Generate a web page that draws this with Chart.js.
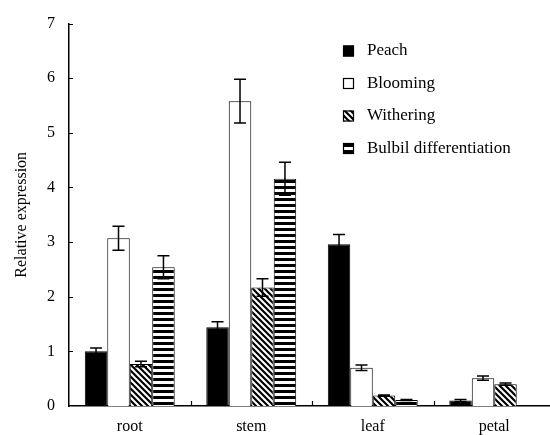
<!DOCTYPE html>
<html>
<head>
<meta charset="utf-8">
<script src="https://cdn.jsdelivr.net/npm/chart.js@4.4.1/dist/chart.umd.min.js"></script>
<style>
  html, body { margin: 0; padding: 0; background: #fff; overflow: hidden; }
  #wrap { width: 556px; height: 435px; }
</style>
</head>
<body>
<div id="wrap"><canvas id="c" width="556" height="435"></canvas></div>
<script>
// Tissues on the x axis
const tissues = ['root', 'stem', 'leaf', 'petal'];

// Developmental stages (one bar series each)
const stages = ['Peach', 'Blooming', 'Withering', 'Bulbil differentiation'];

// Relative expression per stage, in tissue order
const peach     = [1.00, 1.44, 2.96, 0.10];
const blooming  = [3.07, 5.58, 0.70, 0.51];
const withering = [0.77, 2.17, 0.19, 0.40];
const bulbil    = [2.54, 4.16, 0.11, 0];

// Standard errors, same layout
const peachErr     = [0.06, 0.10, 0.18, 0.02];
const bloomingErr  = [0.22, 0.40, 0.05, 0.04];
const witheringErr = [0.05, 0.16, 0.01, 0.02];
const bulbilErr    = [0.21, 0.30, 0.01, 0];

// Y axis ticks
const yTicks = [0, 1, 2, 3, 4, 5, 6, 7];

const SERIF = '"Liberation Serif", "Times New Roman", serif';

// Fill patterns
function diagonalPattern() {
  const s = 6;
  const c = document.createElement('canvas');
  c.width = s; c.height = s;
  const g = c.getContext('2d');
  g.fillStyle = '#fff';
  g.fillRect(0, 0, s, s);
  g.strokeStyle = '#000';
  g.lineWidth = 2.2;
  g.beginPath();
  for (let k = -1; k <= 1; k++) {
    g.moveTo(k * s - 1, -1);
    g.lineTo(k * s + s + 1, s + 1);
  }
  g.stroke();
  return g.createPattern(c, 'repeat');
}
function stripePattern() {
  const s = 6;
  const c = document.createElement('canvas');
  c.width = s; c.height = s;
  const g = c.getContext('2d');
  g.fillStyle = '#fff';
  g.fillRect(0, 0, s, s);
  g.fillStyle = '#000';
  g.fillRect(0, 0, s, 3);
  return g.createPattern(c, 'repeat');
}

const fills = ['#000000', '#ffffff', diagonalPattern(), stripePattern()];
const values = [peach, blooming, withering, bulbil];
const errors = [peachErr, bloomingErr, witheringErr, bulbilErr];

const datasets = stages.map((name, i) => ({
  label: name,
  data: values[i],
  errors: errors[i],
  backgroundColor: fills[i],
  borderColor: '#000',
  borderWidth: 1,
  borderSkipped: 'start',
  categoryPercentage: 0.74,
  barPercentage: 1.0
}));

// Error bars with caps on both ends
const errorBars = {
  id: 'errorBars',
  afterDatasetsDraw(chart) {
    const ctx = chart.ctx;
    const y = chart.scales.y;
    ctx.save();
    ctx.strokeStyle = '#000';
    ctx.lineWidth = 1.5;
    chart.data.datasets.forEach((ds, i) => {
      const meta = chart.getDatasetMeta(i);
      meta.data.forEach((bar, j) => {
        const v = ds.data[j];
        const e = ds.errors[j];
        if (!e) return;
        const x = bar.x;
        const yTop = y.getPixelForValue(v + e);
        const yBot = y.getPixelForValue(v - e);
        const cap = 6;
        ctx.beginPath();
        ctx.moveTo(x, yTop); ctx.lineTo(x, yBot);
        ctx.moveTo(x - cap, yTop); ctx.lineTo(x + cap, yTop);
        ctx.moveTo(x - cap, yBot); ctx.lineTo(x + cap, yBot);
        ctx.stroke();
      });
    });
    ctx.restore();
  }
};

// Short tick marks pointing into the plot area
const innerTicks = {
  id: 'innerTicks',
  afterDatasetsDraw(chart) {
    const ctx = chart.ctx;
    const xs = chart.scales.x, ys = chart.scales.y;
    const area = chart.chartArea;
    ctx.save();
    ctx.strokeStyle = '#000';
    ctx.lineWidth = 1.2;
    ctx.beginPath();
    yTicks.forEach(t => {
      if (t === 0) return;
      const py = Math.round(ys.getPixelForValue(t)) + 0.5;
      ctx.moveTo(area.left, py);
      ctx.lineTo(area.left + 4, py);
    });
    const n = tissues.length;
    for (let i = 0; i < n; i++) {
      const c = xs.getPixelForValue(i);
      const half = (xs.getPixelForValue(1) - xs.getPixelForValue(0)) / 2;
      const px = Math.round(c + half) + 0.5;
      ctx.moveTo(px, area.bottom);
      ctx.lineTo(px, area.bottom - 5);
    }
    ctx.stroke();
    ctx.restore();
  }
};

// Legend in the upper right of the plot
const boxLegend = {
  id: 'boxLegend',
  afterDraw(chart) {
    const ctx = chart.ctx;
    const x0 = 343, y0 = 51, step = 32.5, box = 11;
    ctx.save();
    ctx.font = '17px ' + SERIF;
    ctx.textBaseline = 'middle';
    chart.data.datasets.forEach((ds, i) => {
      const cy = y0 + i * step;
      ctx.fillStyle = ds.backgroundColor;
      ctx.fillRect(x0, cy - box / 2, box, box);
      ctx.strokeStyle = '#000';
      ctx.lineWidth = 1.2;
      ctx.strokeRect(x0 + 0.5, cy - box / 2 + 0.5, box - 1, box - 1);
      ctx.fillStyle = '#000';
      ctx.fillText(ds.label, x0 + 24, cy);
    });
    ctx.restore();
  }
};

new Chart(document.getElementById('c'), {
  type: 'bar',
  data: { labels: tissues, datasets },
  options: {
    responsive: false,
    animation: false,
    devicePixelRatio: 1,
    layout: { padding: { top: 22, right: 1, left: 0, bottom: 0 } },
    plugins: {
      legend: { display: false },
      tooltip: { enabled: false }
    },
    scales: {
      x: {
        grid: { display: false, drawTicks: false },
        border: { display: true, color: '#000', width: 1.5 },
        ticks: { color: '#000', padding: 11, font: { family: SERIF, size: 16 } },
        afterFit(scale) { scale.height = 29; }
      },
      y: {
        min: 0,
        max: 7,
        afterBuildTicks(scale) { scale.ticks = yTicks.map(v => ({ value: v })); },
        grid: { display: false, drawTicks: false },
        border: { display: true, color: '#000', width: 1.5 },
        ticks: { color: '#000', padding: 14, font: { family: SERIF, size: 16 } },
        title: {
          display: true,
          text: 'Relative expression',
          color: '#000',
          padding: { top: 12, bottom: 0 },
          font: { family: SERIF, size: 16 }
        },
        afterFit(scale) { scale.width = 69; }
      }
    }
  },
  plugins: [errorBars, innerTicks, boxLegend]
});
</script>
</body>
</html>
